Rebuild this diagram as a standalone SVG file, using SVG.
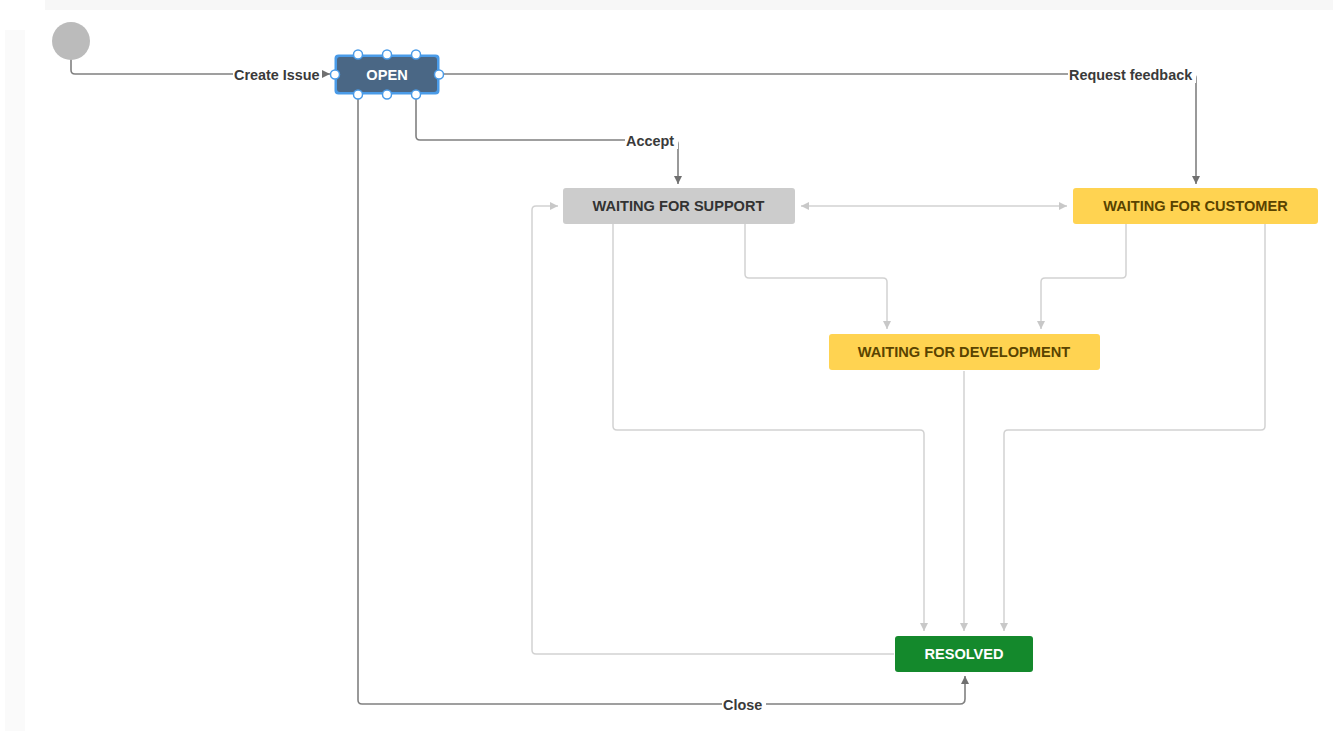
<svg xmlns="http://www.w3.org/2000/svg" width="1333" height="731" viewBox="0 0 1333 731">
<defs>
<marker id="ad" viewBox="0 0 10 10" refX="10" refY="5" markerWidth="8" markerHeight="8" markerUnits="userSpaceOnUse" orient="auto"><path d="M0,0 L10,5 L0,10 z" fill="#707070"/></marker>
<marker id="al" viewBox="0 0 10 10" refX="10" refY="5" markerWidth="8" markerHeight="8" markerUnits="userSpaceOnUse" orient="auto"><path d="M0,0 L10,5 L0,10 z" fill="#c8c8c8"/></marker>
<marker id="als" viewBox="0 0 10 10" refX="0" refY="5" markerWidth="8" markerHeight="8" markerUnits="userSpaceOnUse" orient="auto"><path d="M10,0 L0,5 L10,10 z" fill="#c8c8c8"/></marker>
</defs>
<style>
.dk{fill:none;stroke:#808080;stroke-width:1.6}
.lt{fill:none;stroke:#d2d2d2;stroke-width:1.5}
.lbl{font-family:"Liberation Sans",Arial,sans-serif;font-size:14.4px;font-weight:bold;fill:#3a3a3a}
.nt{font-family:"Liberation Sans",Arial,sans-serif;font-size:14.6px;font-weight:bold;text-anchor:middle;dominant-baseline:central}
.lb{fill:#fff}
.h{fill:#fff;stroke:#4a9be8;stroke-width:1.5}
</style>
<rect x="0" y="0" width="1333" height="731" fill="#ffffff"/>
<rect x="45" y="0" width="1288" height="10" fill="#f7f7f7"/>
<rect x="5" y="30" width="20" height="701" fill="#fafafa"/>

<g id="connectors">
<path class="dk" d="M71,58 V70 Q71,74 75,74 H330" marker-end="url(#ad)"/>
<path class="dk" d="M440,74 H1192 Q1196,74 1196,78 V184" marker-end="url(#ad)"/>
<path class="dk" d="M416,95 V136 Q416,140 420,140 H674 Q678,140 678,144 V184" marker-end="url(#ad)"/>
<path class="dk" d="M358,95 V700 Q358,704 362,704 H960 Q965,704 965,699 V676" marker-end="url(#ad)"/>
<path class="lt" d="M801,206 H1067" marker-start="url(#als)" marker-end="url(#al)"/>
<path class="lt" d="M745,224 V274 Q745,278 749,278 H883 Q887,278 887,282 V329" marker-end="url(#al)"/>
<path class="lt" d="M1126,224 V274 Q1126,278 1122,278 H1045 Q1041,278 1041,282 V329" marker-end="url(#al)"/>
<path class="lt" d="M613,224 V426 Q613,430 617,430 H920 Q924,430 924,434 V631" marker-end="url(#al)"/>
<path class="lt" d="M964,371 V631" marker-end="url(#al)"/>
<path class="lt" d="M1265,224 V426 Q1265,430 1261,430 H1008 Q1004,430 1004,434 V631" marker-end="url(#al)"/>
<path class="lt" d="M894,654 H536 Q532,654 532,650 V210 Q532,206 536,206 H558" marker-end="url(#al)"/>
<rect class="lb" x="233" y="66" width="89" height="17"/>
<text class="lbl" x="234" y="79.5">Create Issue</text>
<rect class="lb" x="1068" y="66" width="128" height="17"/>
<text class="lbl" x="1069" y="79.5">Request feedback</text>
<rect class="lb" x="625" y="132" width="53" height="17"/>
<text class="lbl" x="626" y="145.5">Accept</text>
<rect class="lb" x="722" y="696" width="44" height="17"/>
<text class="lbl" x="723" y="709.5">Close</text>
</g>

<g id="start"><circle cx="71" cy="41" r="19" fill="#bbbbbb"/></g>

<g id="open">
<rect x="334.5" y="54.5" width="105" height="40" rx="4" fill="#4a9be8"/>
<rect x="337" y="57" width="100" height="35" rx="3" fill="#4a6785"/>
<text class="nt" x="387" y="74.5" fill="#fff">OPEN</text>
<circle class="h" cx="358" cy="54.5" r="4.5"/>
<circle class="h" cx="387" cy="54.5" r="4.5"/>
<circle class="h" cx="416" cy="54.5" r="4.5"/>
<circle class="h" cx="358" cy="94.5" r="4.5"/>
<circle class="h" cx="387" cy="94.5" r="4.5"/>
<circle class="h" cx="416" cy="94.5" r="4.5"/>
<circle class="h" cx="335" cy="74.5" r="4.5"/>
<circle class="h" cx="439" cy="74.5" r="4.5"/>
</g>

<g id="waiting-support">
<rect x="563" y="188" width="232" height="36" rx="3" fill="#cccccc"/>
<text class="nt" x="678.5" y="206" fill="#333333">WAITING FOR SUPPORT</text>
</g>

<g id="waiting-customer">
<rect x="1073" y="188" width="245" height="36" rx="3" fill="#ffd351"/>
<text class="nt" x="1195.5" y="206" fill="#594300">WAITING FOR CUSTOMER</text>
</g>

<g id="waiting-development">
<rect x="829" y="334" width="271" height="36" rx="3" fill="#ffd351"/>
<text class="nt" x="964" y="352" fill="#594300">WAITING FOR DEVELOPMENT</text>
</g>

<g id="resolved">
<rect x="895" y="636" width="138" height="36" rx="3" fill="#14892c"/>
<text class="nt" x="964" y="654" fill="#ffffff">RESOLVED</text>
</g>
</svg>
